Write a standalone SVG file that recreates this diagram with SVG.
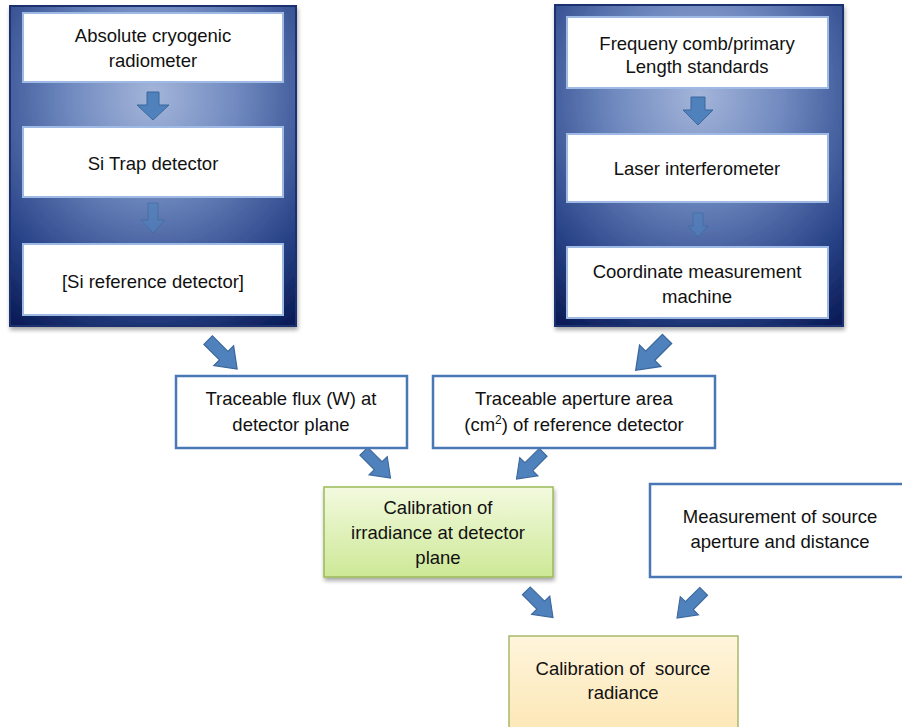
<svg xmlns="http://www.w3.org/2000/svg" width="902" height="727" viewBox="0 0 902 727">
<defs>
<radialGradient id="panelG" cx="50%" cy="28%" r="85%" fx="50%" fy="28%">
<stop offset="0" stop-color="#a4b5d9"/>
<stop offset="0.35" stop-color="#6f89bf"/>
<stop offset="0.75" stop-color="#2a4489"/>
<stop offset="1" stop-color="#0b1d58"/>
</radialGradient>
<linearGradient id="greenG" x1="0" y1="0" x2="0" y2="1">
<stop offset="0" stop-color="#f3fadf"/>
<stop offset="1" stop-color="#cde896"/>
</linearGradient>
<linearGradient id="yellowG" x1="0" y1="0" x2="0" y2="1">
<stop offset="0" stop-color="#fff5dc"/>
<stop offset="1" stop-color="#fce7b6"/>
</linearGradient>
<filter id="sh" x="-10%" y="-10%" width="130%" height="130%">
<feGaussianBlur in="SourceAlpha" stdDeviation="2"/>
<feOffset dx="1" dy="3"/>
<feComponentTransfer><feFuncA type="linear" slope="0.35"/></feComponentTransfer>
<feMerge><feMergeNode/><feMergeNode in="SourceGraphic"/></feMerge>
</filter>
<polygon id="arr" points="-6,-21 6,-21 6,1 14,1 0,20 -14,1 -6,1"/>
</defs>
<style>
.panel{fill:url(#panelG);stroke:#1b3270;stroke-width:2}
.inner{fill:#ffffff;stroke:#9db9e4;stroke-width:2}
.box{fill:#ffffff;stroke:#4a78b4;stroke-width:2.5}
.green{fill:url(#greenG);stroke:#9bbb59;stroke-width:1.5}
.yellow{fill:url(#yellowG);stroke:#a8b86a;stroke-width:1.5}
.ba{fill:#4f81bd;stroke:#3b679c;stroke-width:1.2}
.va{fill:#4f81bd;stroke:#3b679c;stroke-width:1}
text{font-family:"Liberation Sans",Arial,sans-serif;font-size:18.5px;fill:#111111;text-anchor:middle}
</style>

<g id="panel-left">
<rect class="panel" x="10" y="6" width="286" height="320" filter="url(#sh)"/>
</g>
<g id="panel-right">
<rect class="panel" x="555" y="5" width="288" height="321" filter="url(#sh)"/>
</g>

<g id="connectors">
<polygon class="va" points="147,92 159,92 159,105 169,105 153,120 137,105 147,105"/>
<polygon class="va" opacity="0.6" points="148,203 158,203 158,220 165,220 153,233 141,220 148,220"/>
<polygon class="va" points="691,97 705,97 705,110 713,110 698,125 683,110 691,110"/>
<polygon class="va" opacity="0.6" points="693,213 703,213 703,226 708,226 698,237 688,226 693,226"/>
<use href="#arr" class="ba" transform="translate(223,355) rotate(-45)"/>
<use href="#arr" class="ba" transform="translate(651,355) rotate(45) scale(1.08)"/>
<use href="#arr" class="ba" transform="translate(377.5,465) rotate(-45) scale(0.92)"/>
<use href="#arr" class="ba" transform="translate(529.5,466) rotate(45) scale(0.92)"/>
<use href="#arr" class="ba" transform="translate(540,604.5) rotate(-45) scale(0.92)"/>
<use href="#arr" class="ba" transform="translate(690,605) rotate(45) scale(0.92)"/>
</g>

<g id="acr">
<rect class="inner" x="23" y="13" width="260" height="69"/>
<text x="153" y="42">Absolute cryogenic</text>
<text x="153" y="67">radiometer</text>
</g>
<g id="trap">
<rect class="inner" x="23" y="127" width="260" height="70"/>
<text x="153" y="170">Si Trap detector</text>
</g>
<g id="siref">
<rect class="inner" x="23" y="244" width="260" height="71"/>
<text x="153" y="288">[Si reference detector]</text>
</g>

<g id="comb">
<rect class="inner" x="567" y="17" width="261" height="71"/>
<text x="697" y="50">Frequeny comb/primary</text>
<text x="697" y="73">Length standards</text>
</g>
<g id="laser">
<rect class="inner" x="567" y="134" width="261" height="68"/>
<text x="697" y="175">Laser interferometer</text>
</g>
<g id="cmm">
<rect class="inner" x="567" y="247" width="261" height="71"/>
<text x="697" y="278">Coordinate measurement</text>
<text x="697" y="303">machine</text>
</g>

<g id="flux">
<rect class="box" x="176" y="376" width="231" height="72"/>
<text x="291" y="405">Traceable flux (W) at</text>
<text x="291" y="431">detector plane</text>
</g>
<g id="aperture">
<rect class="box" x="433" y="376" width="282" height="72"/>
<text x="574" y="405">Traceable aperture area</text>
<text x="574" y="431">(cm<tspan font-size="12" dy="-7">2</tspan><tspan dy="7">) of reference detector</tspan></text>
</g>

<g id="irradiance">
<rect class="green" x="324" y="487" width="229" height="90" filter="url(#sh)"/>
<text x="438" y="514">Calibration of</text>
<text x="438" y="539">irradiance at detector</text>
<text x="438" y="564">plane</text>
</g>

<g id="measurement">
<rect class="box" x="650" y="484" width="262" height="93"/>
<text x="780" y="523">Measurement of source</text>
<text x="780" y="548">aperture and distance</text>
</g>

<g id="radiance">
<rect class="yellow" x="509" y="636" width="229" height="95"/>
<text x="623" y="675" xml:space="preserve">Calibration of  source</text>
<text x="623" y="699">radiance</text>
</g>
</svg>
